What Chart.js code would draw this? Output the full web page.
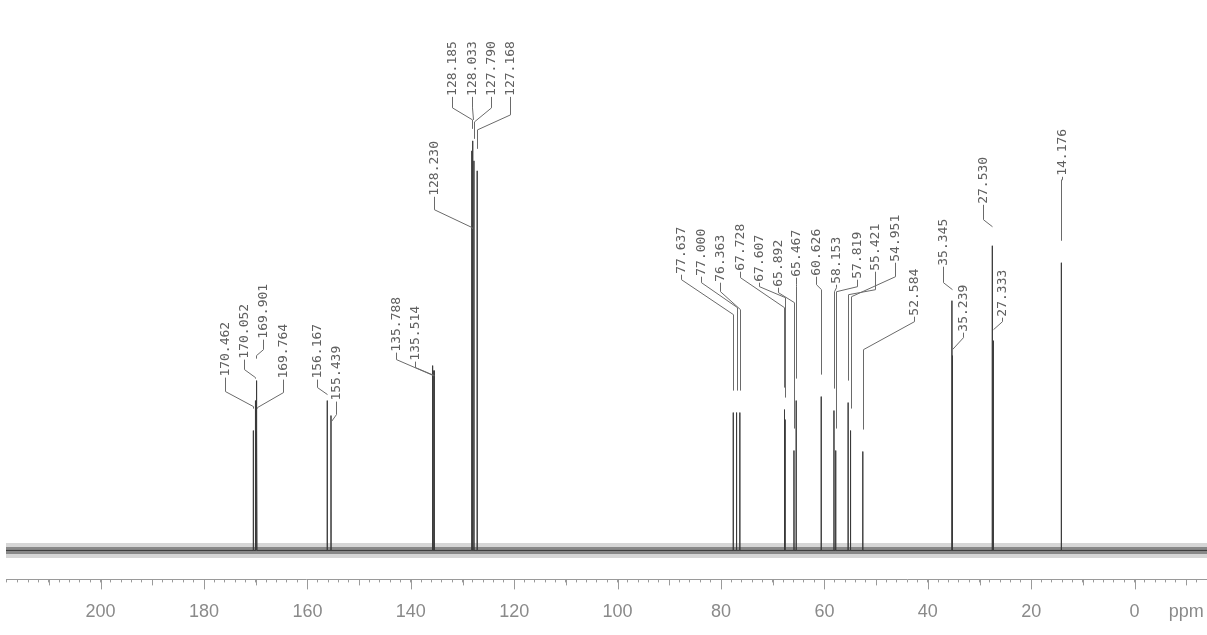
<!DOCTYPE html>
<html>
<head>
<meta charset="utf-8">
<title>13C NMR spectrum</title>
<script src="https://cdn.jsdelivr.net/npm/chart.js@4.4.1/dist/chart.umd.min.js"></script>
<style>
  html, body { margin: 0; padding: 0; background: #fff; overflow: hidden; }
  #wrap { width: 1207px; height: 642px; position: relative; }
</style>
</head>
<body>
<div id="wrap"><canvas id="nmr"></canvas></div>
<script>
// chemical shifts (ppm) and peak heights (arbitrary units, baseline = 0)
const peakPpm = [170.462, 170.052, 169.901, 169.764, 156.167, 155.439, 135.788, 135.514,
  128.230, 128.185, 128.033, 127.790, 127.168, 77.637, 77.000, 76.363, 67.728, 67.607,
  65.892, 65.467, 60.626, 58.153, 57.819, 55.421, 54.951, 52.584, 35.345, 35.239,
  27.530, 27.333, 14.176];
const peakHeight = [120, 150, 170, 120, 150, 135, 185, 180,
  300, 400, 410, 390, 380, 138, 138, 138, 141, 131,
  100, 150, 154, 140, 100, 148, 120, 99, 250, 195,
  305, 210, 288];

// axis
const axisMin = -14, axisMax = 218.3;
const tickValues = [200, 180, 160, 140, 120, 100, 80, 60, 40, 20, 0];
const unitValue = -10, unitLabel = 'ppm';

// label layout (slot in ppm, heights in intensity units): text foot, knee, leader end
const labelSlot = [175.88, 172.20, 168.50, 164.80, 158.20, 154.45, 142.84, 139.10,
  135.43, 132.00, 128.26, 124.58, 120.90, 87.67, 83.80, 80.26, 76.38, 72.71,
  69.03, 65.41, 61.54, 57.67, 53.79, 50.25, 46.38, 42.70, 37.03, 33.16,
  29.29, 25.73, 14.11];
const labelFoot = [173, 191, 211, 171, 171, 149, 198, 189,
  354, 454, 454, 454, 454, 276, 274, 268, 279, 268,
  263, 273, 274, 266, 271, 279, 288, 234, 284, 218,
  346, 233, 374];
const labelKnee = [159, 181, 201, 158, 163, 136, 191, 183,
  341, 443, 443, 443, 436, 271, 268, 259, 273, 264,
  258, 266, 266, 263, 264, 261, 274, 229, 268, 213,
  331, 229, 371];
const labelEnd = [144, 173, 195, 143, 156, 129, 175, 175,
  323, 431, 431, 429, 421, 236, 243, 241, 243, 253,
  248, 264, 261, 259, 259, 256, 254, 201, 261, 201,
  324, 221, 371];
const leaderGap = 22;

// spectrum trace: flat baseline with a narrow spike at each shift
const half = 0.015;
const trace = [{ x: axisMax, y: 0 }];
peakPpm.forEach((p, i) => {
  trace.push({ x: p + half, y: 0 }, { x: p, y: peakHeight[i] }, { x: p - half, y: 0 });
});
trace.push({ x: axisMin, y: 0 });
const baseline = [{ x: axisMax, y: 0 }, { x: axisMin, y: 0 }];

const peakLabels = {
  id: 'peakLabels',
  afterDatasetsDraw(chart) {
    const { ctx, scales: { x, y } } = chart;
    ctx.save();
    ctx.strokeStyle = '#6a6a6a';
    ctx.lineWidth = 1;
    ctx.fillStyle = '#606060';
    ctx.font = '13px "DejaVu Sans Mono", "Liberation Mono", monospace';
    ctx.textAlign = 'left';
    ctx.textBaseline = 'middle';
    peakPpm.forEach((p, i) => {
      const sx = Math.round(x.getPixelForValue(labelSlot[i])) + 0.5;
      const px = Math.round(x.getPixelForValue(p)) + 0.5;
      const foot = y.getPixelForValue(labelFoot[i]);
      const knee = y.getPixelForValue(labelKnee[i]);
      const end = y.getPixelForValue(labelEnd[i]);
      const stop = y.getPixelForValue(Math.min(labelEnd[i], peakHeight[i] + leaderGap));
      ctx.beginPath();
      ctx.moveTo(sx, foot);
      ctx.lineTo(sx, knee);
      ctx.lineTo(px, end);
      ctx.lineTo(px, stop);
      ctx.stroke();
      ctx.save();
      ctx.translate(sx, foot);
      ctx.rotate(-Math.PI / 2);
      ctx.fillText(p.toFixed(3), 1, 0);
      ctx.restore();
    });
    ctx.restore();
  },
  afterDraw(chart) {
    // longer marks at every 10 and 20 ppm
    const { ctx, scales: { x } } = chart;
    ctx.save();
    ctx.strokeStyle = '#9a9a9a';
    ctx.lineWidth = 1;
    x.ticks.forEach(t => {
      const v = t.value;
      let len = 0;
      if (Math.abs(v % 20) < 1e-6) len = 10;
      else if (Math.abs(v % 10) < 1e-6) len = 6;
      if (!len) return;
      const xp = Math.round(x.getPixelForValue(v)) + 0.5;
      ctx.beginPath();
      ctx.moveTo(xp, x.top);
      ctx.lineTo(xp, x.top + len);
      ctx.stroke();
    });
    ctx.restore();
  }
};

new Chart(document.getElementById('nmr'), {
  type: 'scatter',
  data: {
    datasets: [
      { data: trace, showLine: true, borderColor: '#3a3a3a', borderWidth: 1,
        pointRadius: 0, tension: 0, order: 0 },
      { data: baseline, showLine: true, borderColor: 'rgba(60,60,60,0.5)', borderWidth: 7,
        pointRadius: 0, order: 1 },
      { data: baseline, showLine: true, borderColor: 'rgba(90,90,90,0.25)', borderWidth: 15,
        pointRadius: 0, order: 2 }
    ]
  },
  options: {
    responsive: true,
    maintainAspectRatio: false,
    animation: false,
    devicePixelRatio: 1,
    layout: { autoPadding: false, padding: { left: 6, right: 0, top: 0, bottom: 0 } },
    plugins: { legend: { display: false }, tooltip: { enabled: false } },
    scales: {
      x: {
        type: 'linear',
        reverse: true,
        min: axisMin,
        max: axisMax,
        afterFit: s => { s.paddingLeft = 0; s.paddingRight = 0; },
        grid: { drawOnChartArea: false, drawTicks: true, tickLength: 3, color: '#9a9a9a' },
        border: { display: true, color: '#9a9a9a', width: 1 },
        ticks: {
          stepSize: 2,
          autoSkip: false,
          maxRotation: 0,
          minRotation: 0,
          padding: 19,
          color: '#8a8a8a',
          font: { family: '"Liberation Sans", Arial, sans-serif', size: 18 },
          callback: v => {
            if (tickValues.includes(v)) return String(v);
            if (v === unitValue) return unitLabel;
            return '';
          }
        }
      },
      y: { display: false, min: -29, max: 551 }
    }
  },
  plugins: [peakLabels]
});
</script>
</body>
</html>
